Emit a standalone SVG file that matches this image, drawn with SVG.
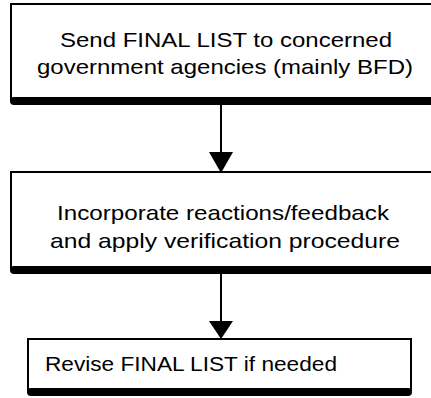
<svg xmlns="http://www.w3.org/2000/svg" width="431" height="398" viewBox="0 0 431 398">
  <style>
    .frame { fill: #fff; stroke: #000; stroke-width: 2; }
    .base { fill: none; stroke: #000; stroke-width: 8; stroke-linecap: round; }
    .label { font-family: "Liberation Sans", Arial, sans-serif; font-size: 21px; fill: #000; }
    .wire { stroke: #000; stroke-width: 2; fill: none; }
    .head { fill: #000; }
  </style>
  <rect width="431" height="398" fill="#fff"/>

  <!-- step 1 -->
  <g id="send-list">
    <rect class="frame" x="11" y="4" width="432" height="96"/>
    <line class="base" x1="14" y1="101" x2="440" y2="101"/>
    <text class="label" x="60" y="47" textLength="332" lengthAdjust="spacingAndGlyphs">Send FINAL LIST to concerned</text>
    <text class="label" x="37" y="74" textLength="376" lengthAdjust="spacingAndGlyphs">government agencies (mainly BFD)</text>
  </g>

  <!-- step 2 -->
  <g id="incorporate">
    <rect class="frame" x="11" y="172" width="432" height="96"/>
    <line class="base" x1="14" y1="270" x2="440" y2="270"/>
    <text class="label" x="57" y="220" textLength="332" lengthAdjust="spacingAndGlyphs">Incorporate reactions/feedback</text>
    <text class="label" x="50" y="248" textLength="350" lengthAdjust="spacingAndGlyphs">and apply verification procedure</text>
  </g>

  <!-- step 3 -->
  <g id="revise">
    <rect class="frame" x="28" y="339" width="383" height="51"/>
    <line class="base" x1="31" y1="392" x2="408" y2="392"/>
    <text class="label" x="45" y="371" textLength="292" lengthAdjust="spacingAndGlyphs">Revise FINAL LIST if needed</text>
  </g>

  <!-- connectors -->
  <g id="connectors">
    <line class="wire" x1="221" y1="105" x2="221" y2="155"/>
    <polygon class="head" points="209,152 233,152 221,173"/>
    <line class="wire" x1="221" y1="274" x2="221" y2="323"/>
    <polygon class="head" points="209,321 233,321 221,339"/>
  </g>
</svg>
